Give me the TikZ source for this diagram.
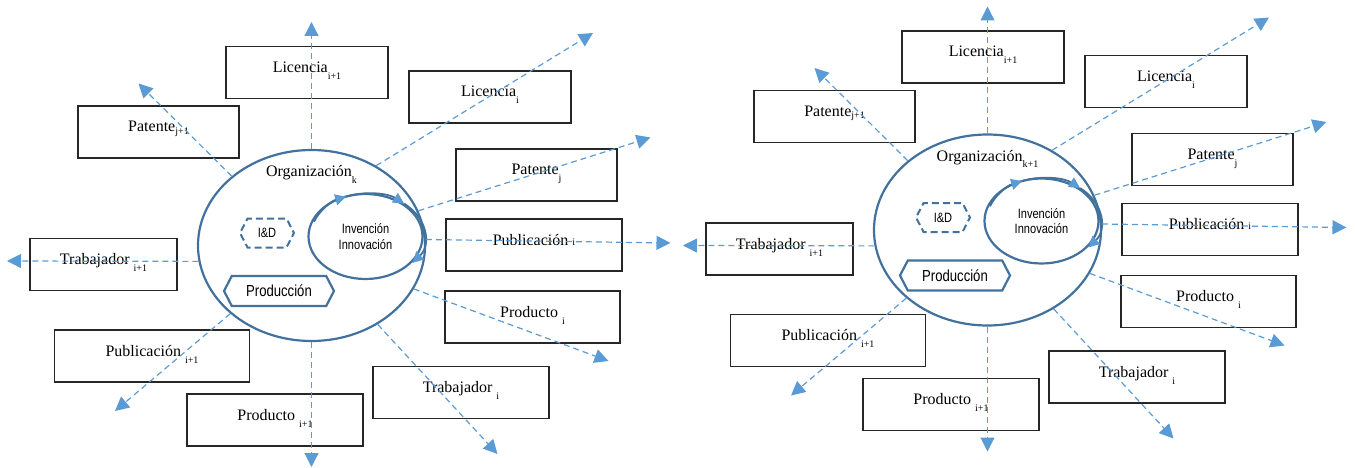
\documentclass[tikz,border=0pt]{standalone}
\usepackage{fontspec}
\setmainfont{Liberation Serif}
\newfontfamily\narrowsans[FakeStretch=0.82]{Liberation Sans}
\usetikzlibrary{shapes.geometric,shapes.symbols,arrows.meta}
\definecolor{orgblue}{HTML}{41719C}
\definecolor{flowblue}{HTML}{5B9BD5}
% lowered index set in a small size; optional argument = drop below the baseline
\newcommand\idx[2][7pt]{\raisebox{-#1}{\fontsize{10}{10}\selectfont #2}}

\tikzset{
  card/.style={draw=black!85, line width=1.1pt, minimum height=52pt, inner sep=0pt,
    text height=10pt, text depth=10pt, font=\fontsize{16}{18}\selectfont},
  orgring/.style={ellipse, draw=orgblue, line width=2.2pt, inner sep=0pt},
  unit/.style={signal, signal to=west and east, signal pointer angle=125, draw=orgblue,
    inner sep=0pt, font=\narrowsans\fontsize{16}{18}\selectfont},
  flow/.style={flowblue, line width=1.2pt, dash pattern=on 6pt off 4pt,
    -{Triangle[length=14pt, width=14pt]}},
  loopline/.style={orgblue, line width=1.8pt,
    -{Triangle[length=11pt, width=11pt, color=flowblue]}},
}

% one organisation with its ten outcome boxes and outgoing flows
% #1 = name prefix, #2 = index of the organisation
\newcommand\orgcluster[2]{%
  % outcome boxes
  \node[card, minimum width=162pt] (#1licA)  at (307,72.5)   {Licencia\idx{i+1}};
  \node[card, minimum width=162pt] (#1lic)   at (490,97)     {Licencia\idx{i}};
  \node[card, minimum width=161pt] (#1patA)  at (158.5,132)  {Patente\idx[2pt]{j+1}};
  \node[card, minimum width=161pt] (#1pat)   at (536.5,175)  {Patente\idx{j}};
  \node[card, minimum width=176pt] (#1pub)   at (534,245)    {Publicación \idx[0pt]{i}};
  \node[card, minimum width=175pt] (#1prod)  at (532.5,317)  {Producto \idx{i}};
  \node[card, minimum width=176pt] (#1trab)  at (461,392.5)  {Trabajador \idx{i}};
  \node[card, minimum width=176pt] (#1prodA) at (275,420)    {Producto \idx{i+1}};
  \node[card, minimum width=195pt] (#1pubA)  at (152,356)    {Publicación \idx{i+1}};
  \node[card, minimum width=147pt] (#1trabA) at (103.5,264.5){Trabajador \idx{i+1}};
  % the organisation and its inner units
  \node[orgring, minimum width=227pt, minimum height=191pt] (#1org) at (311.5,245.5) {};
  \node[anchor=base, font=\fontsize{16}{18}\selectfont] (#1orgname) at (311.5,177)
    {Organización\idx[6pt]{#2}};
  \node[orgring, minimum width=114pt, minimum height=85pt] (#1inv) at (365.5,236.5) {};
  \node[align=center, font=\narrowsans\fontsize{13.5}{15.5}\selectfont] (#1invtext)
    at (365.5,236.5) {Invención\\Innovación};
  \node[unit, line width=2pt, dash pattern=on 7pt off 4pt, minimum width=54pt,
    minimum height=29pt, font=\narrowsans\fontsize{13.5}{15}\selectfont] (#1rd)
    at (267,233) {I\&D};
  \node[unit, line width=2.2pt, minimum width=110pt, minimum height=30pt] (#1prodn)
    at (279,291) {Producción};
  % innovation cycle, running just outside the right side of the inner ring
  \coordinate (#1loopc) at ([xshift=2pt]#1inv.center);
  \draw[loopline] ([shift={(-160:57 and 43)}]#1loopc)
    arc[start angle=-160, end angle=-112, x radius=57, y radius=43];
  \draw[loopline] ([shift={(-112:57 and 43)}]#1loopc)
    arc[start angle=-112, end angle=-50, x radius=57, y radius=43];
  \draw[loopline] ([shift={(-50:57 and 43)}]#1loopc)
    arc[start angle=-50, end angle=38, x radius=57, y radius=43];
  % free ends of the flows
  \coordinate (#1tUp)    at (311.5,22);
  \coordinate (#1tPatA)  at (138.5,83.5);
  \coordinate (#1tLic)   at (593,33);
  \coordinate (#1tPat)   at (650.5,137.5);
  \coordinate (#1tPub)   at (670.5,243);
  \coordinate (#1tProd)  at (608.5,361);
  \coordinate (#1tTrab)  at (497.5,454);
  \coordinate (#1tDown)  at (311.5,467);
  \coordinate (#1tPubA)  at (115,411);
  \coordinate (#1tTrabA) at (7,261);
  % flows leaving the organisation
  \draw[flow] (#1org.90)    -- (#1tUp);
  \draw[flow] (#1org.139.8) -- (#1tPatA);
  \draw[flow] (#1org.51.4)  -- (#1tLic);
  \draw[flow] (#1org.18.5)  -- (#1tPat);
  \draw[flow] (#1org.3.4)   -- (#1tPub);
  \draw[flow] (#1org.-23.8) -- (#1tProd);
  \draw[flow] (#1org.-50.3) -- (#1tTrab);
  \draw[flow] (#1org.270)   -- (#1tDown);
  \draw[flow] (#1org.-140)  -- (#1tPubA);
  \draw[flow] (#1org.188)   -- (#1tTrabA);
}

\begin{document}
\begin{tikzpicture}[x=1pt, y=-1pt]
  \useasboundingbox (0,0) rectangle (1355,468);
  \begin{scope}
    \orgcluster{L}{k}
  \end{scope}
  \begin{scope}[shift={(676,-15.5)}]
    \orgcluster{R}{k+1}
  \end{scope}
\end{tikzpicture}
\end{document}
